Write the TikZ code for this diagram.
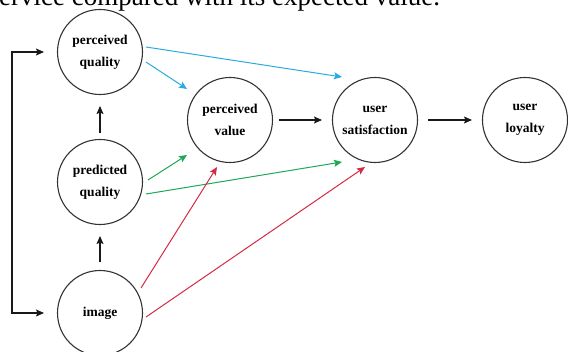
\documentclass[tikz,border=0pt]{standalone}
\usepackage{fontspec}
\setmainfont{Liberation Serif}
\usetikzlibrary{arrows.meta}
\definecolor{cblue}{HTML}{2AAAE2}
\definecolor{cgreen}{HTML}{1DA855}
\definecolor{cred}{HTML}{D42A45}
\definecolor{cline}{HTML}{333333}
\tikzset{
  circ/.style={circle, draw=cline, line width=1.1pt, minimum size=85pt, inner sep=0pt,
    align=center, font=\fontsize{13.5}{22}\selectfont\bfseries},
  arr/.style={line width=1.1pt, draw=black!90, -{Stealth[length=8pt,width=7pt,inset=1.5pt]}},
  carr/.style={line width=1pt, -{Stealth[length=8pt,width=7pt,inset=1.5pt]}},
}
\begin{document}
\begin{tikzpicture}[x=1pt,y=-1pt]
\useasboundingbox (0,0) rectangle (568,352);
\node[anchor=base west, inner sep=0pt, font=\fontsize{27}{30}\selectfont] (top) at (-1,5.5) {ervice compared with its expected value.};
\node[circ] (pq) at (100,52) {perceived\\quality};
\node[circ] (pred) at (100,182) {predicted\\quality};
\node[circ] (img) at (100,313) {image};
\node[circ] (pv) at (230,120) {perceived\\value};
\node[circ] (us) at (375,120) {user\\satisfaction};
\node[circ] (ul) at (525,120) {user\\loyalty};
% bracket
\coordinate (bkt) at (12,52);
\coordinate (bkb) at (12,313);
\draw[line width=1.1pt, draw=black!90, {Stealth[length=8pt,width=7pt,inset=1.5pt]}-{Stealth[length=8pt,width=7pt,inset=1.5pt]}]
  ([shift={(-56,0)}]pq.center) -- (bkt) -- (bkb) -- ([shift={(-56,0)}]img.center);
% vertical arrows
\draw[arr] ([shift={(0,-49)}]pred.center) -- ([shift={(0,54)}]pq.center);
\draw[arr] ([shift={(0,-51)}]img.center) -- ([shift={(0,54)}]pred.center);
% horizontal arrows
\draw[arr] ([shift={(49,0)}]pv.center) -- ([shift={(-53,0)}]us.center);
\draw[arr] ([shift={(53,0)}]us.center) -- ([shift={(-53,0)}]ul.center);
% blue
\draw[carr, cblue] ([shift={(46,10)}]pq.center) -- ([shift={(-43,-31)}]pv.center);
\draw[carr, cblue] ([shift={(46,-5)}]pq.center) -- ([shift={(-33,-43)}]us.center);
% green
\draw[carr, cgreen] ([shift={(48,-2)}]pred.center) -- ([shift={(-43,35)}]pv.center);
\draw[carr, cgreen] ([shift={(46,12)}]pred.center) -- ([shift={(-33,42)}]us.center);
% red
\draw[carr, cred] ([shift={(41,-25)}]img.center) -- ([shift={(-13,47)}]pv.center);
\draw[carr, cred] ([shift={(46,4)}]img.center) -- ([shift={(-10,47)}]us.center);
\end{tikzpicture}
\end{document}
